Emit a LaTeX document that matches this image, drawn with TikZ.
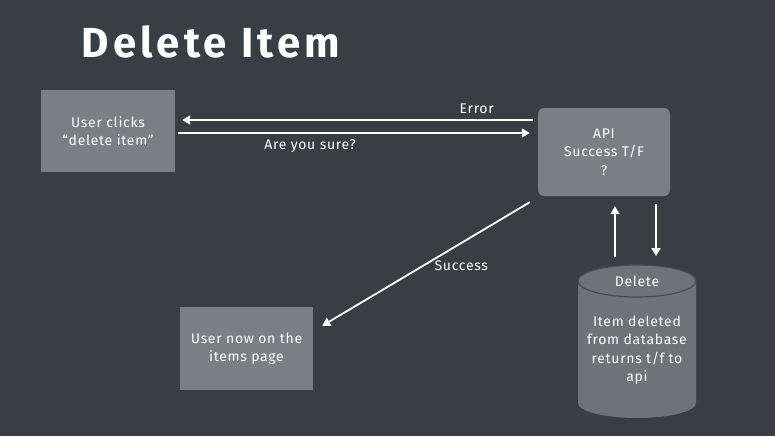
\documentclass[tikz,border=0pt]{standalone}
\usepackage{fontspec}
\setmainfont{Fira Sans}[LetterSpace=5]
\usetikzlibrary{arrows.meta}
\definecolor{board}{RGB}{58,61,67}
\definecolor{boxgray}{RGB}{124,126,133}
\definecolor{dbgray}{RGB}{112,114,121}
\definecolor{rim}{RGB}{74,76,82}
\tikzset{
  box/.style={fill=boxgray, text=white, align=center, inner sep=0pt,
    font=\fontsize{14}{18.5}\selectfont},
  chalk/.style={draw=white, line width=1.8pt, -{Triangle[width=9pt,length=8pt]}},
  lbl/.style={text=white, font=\fontsize{14}{18.5}\selectfont}
}
\begin{document}
\begin{tikzpicture}[x=1pt,y=-1pt]
\fill[board] (0,0) rectangle (775,436);
\useasboundingbox (0,0) rectangle (775,436);

\node[lbl, font=\fontsize{42}{42}\selectfont\bfseries\addfontfeatures{LetterSpace=10}, anchor=west] (title) at (78,42) {Delete Item};

\node[box, minimum width=134pt, minimum height=82pt] (click) at (108,131) {User clicks\\``delete item''};
\node[box, rounded corners=6pt, minimum width=132pt, minimum height=88pt] (api) at (604,152) {API\\Success T/F\\?};
\node[box, minimum width=133pt, minimum height=83pt] (done) at (246.5,348.5) {User now on the\\items page};

% database
\fill[dbgray] (578,281) -- (578,403) arc[start angle=180, end angle=360, x radius=59pt, y radius=15pt] -- (696,281) -- cycle;
\filldraw[fill=dbgray, draw=rim, line width=1.2pt] (637,281) ellipse[x radius=59pt, y radius=16pt];
\node[lbl] (dbtop) at (637,281) {Delete};
\node[lbl, align=center] (db) at (637,350) {Item deleted\\from database\\returns t/f to\\api};
\coordinate (dbin) at (656,256);
\coordinate (dbout) at (615,257);

\draw[chalk] ([xshift=-5pt,yshift=32pt]api.west) -- ([xshift=7pt,yshift=11pt]click.east)
  node[lbl, pos=0.16, above=2pt] {Error};
\draw[chalk] ([xshift=3pt,yshift=-2pt]click.east) -- ([xshift=-8pt,yshift=19pt]api.west)
  node[lbl, pos=0.375, below=2pt] {Are you sure?};
\draw[chalk] (dbout) -- ([xshift=11pt,yshift=-10pt]api.south);
\draw[chalk] ([xshift=52pt,yshift=-8pt]api.south) -- (dbin);
\draw[chalk] ([xshift=-8pt,yshift=-6pt]api.south west) -- ([xshift=9pt,yshift=-19pt]done.north east)
  node[lbl, pos=0.33, yshift=-23pt] {Success};
\end{tikzpicture}
\end{document}
